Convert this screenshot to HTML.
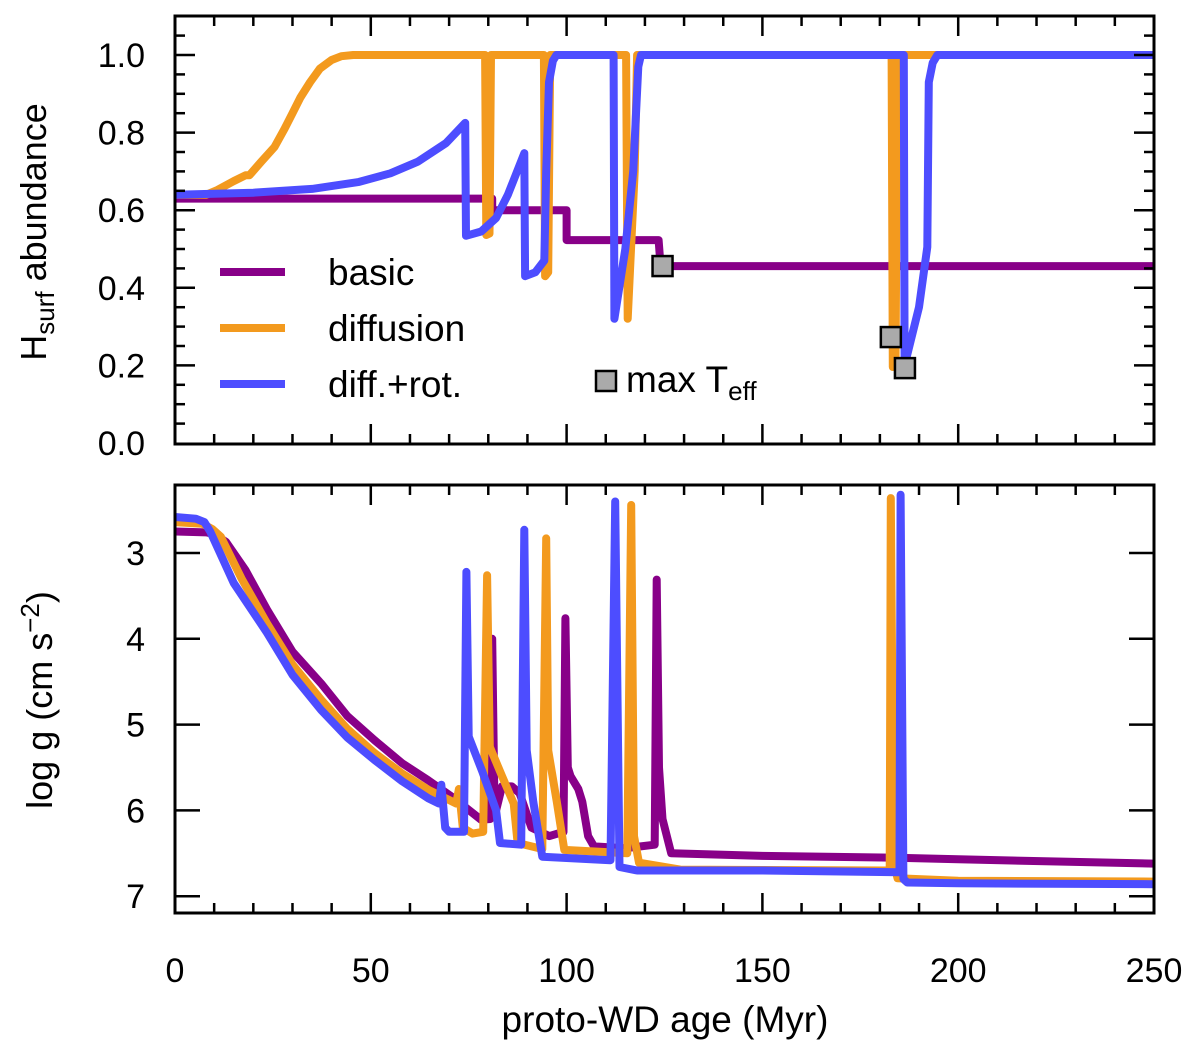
<!DOCTYPE html>
<html><head><meta charset="utf-8">
<style>
html,body{margin:0;padding:0;background:#fff;}
svg{display:block;font-family:"Liberation Sans",sans-serif;}
</style></head>
<body>
<svg id="chart" width="1200" height="1055" viewBox="0 0 1200 1055" xmlns="http://www.w3.org/2000/svg">
<g id="topSeries"></g>
<g id="botSeries"></g>
<g id="axes"></g>
<g id="legend">
  <line x1="220" y1="272" x2="285" y2="272" stroke="#880088" stroke-width="8"/>
  <text x="328" y="285" font-size="37">basic</text>
  <line x1="220" y1="328" x2="285" y2="328" stroke="#F39A1E" stroke-width="8"/>
  <text x="328" y="341" font-size="37">diffusion</text>
  <line x1="220" y1="384" x2="285" y2="384" stroke="#4D4DFF" stroke-width="8"/>
  <text x="328" y="397" font-size="37">diff.+rot.</text>
  <rect x="596" y="371" width="20" height="20" fill="#aaa" stroke="#000" stroke-width="2.5"/>
  <text x="626" y="392" font-size="37">max T<tspan font-size="26" dy="8">eff</tspan></text>
</g>
<text x="665" y="1032" font-size="37" text-anchor="middle">proto-WD age (Myr)</text>
<text transform="translate(46,232) rotate(-90)" font-size="36" text-anchor="middle">H<tspan font-size="26" dy="8">surf</tspan><tspan dy="-8"> abundance</tspan></text>
<text transform="translate(52,700) rotate(-90)" font-size="36" text-anchor="middle">log g (cm s<tspan font-size="26" dy="-13">−2</tspan><tspan dy="13">)</tspan></text>
</svg>
<script>
// ---- data ----
const xTicks = [0, 50, 100, 150, 200, 250];
const topTicks = [0.0, 0.2, 0.4, 0.6, 0.8, 1.0];
const topTickLabels = ["0.0", "0.2", "0.4", "0.6", "0.8", "1.0"];
const botTicks = [3, 4, 5, 6, 7];
const botTickLabels = ["3", "4", "5", "6", "7"];

// top panel: H surface abundance
const basicTopAge = [0, 81, 81, 100, 100, 123.5, 124, 250];
const basicTopH = [0.63, 0.63, 0.60, 0.60, 0.523, 0.523, 0.456, 0.456];
const diffTopAge = [0, 8, 10.8, 15, 18, 19, 22, 25.4, 28, 30, 32, 34.5, 37, 40, 42.5, 45.5, 79.2, 79.5, 80.3, 80.7, 94.2, 94.5, 95.3, 95.8, 115.2, 115.6, 117.4, 118, 183, 183.3, 184, 184.5, 250];
const diffTopH = [0.64, 0.64, 0.652, 0.675, 0.69, 0.69, 0.725, 0.763, 0.81, 0.85, 0.89, 0.93, 0.965, 0.987, 0.997, 1.0, 1.0, 0.536, 0.54, 1.0, 1.0, 0.43, 0.44, 1.0, 1.0, 0.32, 0.7, 1.0, 1.0, 0.196, 0.2, 1.0, 1.0];
const rotTopAge = [0, 20, 35, 47, 55, 62, 69.2, 74.1, 74.3, 78.2, 82, 85, 89.2, 89.4, 92, 94.3, 94.8, 95.5, 96.5, 97.4, 112, 112.2, 115, 117, 118.3, 119, 186.1, 186.3, 190, 192.1, 192.5, 193.5, 194.7, 250];
const rotTopH = [0.64, 0.645, 0.655, 0.673, 0.695, 0.725, 0.773, 0.825, 0.534, 0.545, 0.58, 0.64, 0.747, 0.43, 0.44, 0.47, 0.7, 0.93, 0.985, 1.0, 1.0, 0.32, 0.5, 0.7, 0.97, 1.0, 1.0, 0.2, 0.35, 0.505, 0.93, 0.98, 1.0, 1.0];
// max Teff markers
const markerAge = [124.5, 182.8, 186.4];
const markerH = [0.456, 0.273, 0.193];

// bottom panel: log g
const basicBotAge = [0, 8, 10, 13, 18, 23.5, 30, 37.3, 44, 50.9, 58, 64.7, 71, 78.2, 80.5, 81, 81.5, 82, 83.5, 86, 88, 91, 95.6, 99.2, 99.7, 100.3, 101, 103, 104, 105.5, 107, 115, 122.5, 123, 123.6, 124.5, 126.7, 150, 183, 200, 250];
const basicBotG = [2.75, 2.76, 2.78, 2.87, 3.2, 3.66, 4.15, 4.52, 4.9, 5.18, 5.45, 5.65, 5.85, 6.11, 6.1, 4.0, 5.7, 6.0, 5.72, 5.72, 5.8, 6.2, 6.3, 6.25, 3.76, 5.5, 5.6, 5.75, 5.9, 6.3, 6.42, 6.44, 6.4, 3.31, 5.5, 6.1, 6.5, 6.53, 6.55, 6.57, 6.62];
const diffBotAge = [0, 7, 9.5, 11.7, 17, 23.5, 30, 37.3, 44, 50.9, 58, 64.7, 71.8, 72.5, 73.5, 76, 78.7, 79.7, 80.4, 83.5, 86.5, 87.5, 93.8, 94.8, 95.3, 97.5, 99.4, 115.5, 116.5, 117.2, 118.5, 129, 182.5, 182.8, 183.5, 184.5, 200, 250];
const diffBotG = [2.64, 2.66, 2.72, 2.81, 3.3, 3.82, 4.3, 4.71, 5.05, 5.33, 5.57, 5.76, 5.92, 5.75, 6.2, 6.27, 6.25, 3.26, 5.26, 5.6, 5.92, 6.38, 6.45, 2.83, 5.3, 5.9, 6.46, 6.5, 2.44, 6.3, 6.61, 6.69, 6.7, 2.36, 6.6, 6.79, 6.82, 6.83];
const rotBotAge = [0, 5.3, 7.5, 9, 15, 23.5, 30, 37.3, 44, 50.9, 58, 64.7, 67.4, 68, 69, 70, 73.8, 74.4, 75, 78.5, 82, 83, 88.4, 89.2, 89.8, 91.5, 93.8, 111.2, 112.4, 113.5, 118, 150, 185, 185.3, 186, 187, 200, 250];
const rotBotG = [2.58, 2.6, 2.64, 2.75, 3.35, 3.93, 4.42, 4.83, 5.15, 5.41, 5.66, 5.86, 5.92, 5.7, 6.2, 6.25, 6.25, 3.22, 5.14, 5.55, 6.0, 6.38, 6.4, 2.73, 5.3, 5.9, 6.54, 6.58, 2.4, 6.66, 6.7, 6.7, 6.72, 2.32, 6.8, 6.84, 6.85, 6.86];

// ---- geometry ----
const L = 175, R = 1154;
const TT = 16, TB = 444, BT = 485, BB = 913;
const xS = a => L + (a / 250) * (R - L);
const yTop = v => 443 - 388 * v;
const yBot = g => 553 + 85.8 * (g - 3);
const NS = "http://www.w3.org/2000/svg";
const COLORS = {basic: "#880088", diff: "#F39A1E", rot: "#4D4DFF"};

function mk(tag, attrs, parent) {
  const e = document.createElementNS(NS, tag);
  for (const k in attrs) e.setAttribute(k, attrs[k]);
  parent.appendChild(e);
  return e;
}
function series(ages, vals, yf, color, parent, name, clipId) {
  const pts = ages.map((a, i) => xS(a).toFixed(1) + "," + yf(vals[i]).toFixed(1)).join(" ");
  const p = mk("polyline", {points: pts, fill: "none", stroke: color, "stroke-width": 8, "stroke-linejoin": "round", "stroke-linecap": "round", "clip-path": "url(#" + clipId + ")"}, parent);
  
  
}
const svg = document.getElementById("chart");
const defs = mk("defs", {}, svg);
const c1 = mk("clipPath", {id: "clipTop"}, defs);
mk("rect", {x: L, y: TT, width: R - L, height: TB - TT}, c1);
const c2 = mk("clipPath", {id: "clipBot"}, defs);
mk("rect", {x: L, y: BT, width: R - L, height: BB - BT}, c2);

const tg = document.getElementById("topSeries");
series(basicTopAge, basicTopH, yTop, COLORS.basic, tg, "top-line-basic", "clipTop");
series(diffTopAge, diffTopH, yTop, COLORS.diff, tg, "top-line-diffusion", "clipTop");
series(rotTopAge, rotTopH, yTop, COLORS.rot, tg, "top-line-diff-rot", "clipTop");
markerAge.forEach((a, i) => {
  const r = mk("rect", {x: xS(a) - 10, y: yTop(markerH[i]) - 10, width: 20, height: 20, fill: "#aaa", stroke: "#000", "stroke-width": 2.5}, tg);
  
  
});
const bg = document.getElementById("botSeries");
series(basicBotAge, basicBotG, yBot, COLORS.basic, bg, "bottom-line-basic", "clipBot");
series(diffBotAge, diffBotG, yBot, COLORS.diff, bg, "bottom-line-diffusion", "clipBot");
series(rotBotAge, rotBotG, yBot, COLORS.rot, bg, "bottom-line-diff-rot", "clipBot");

// ---- axes ----
const ax = document.getElementById("axes");
function line(x1, y1, x2, y2, w, name) {
  const l = mk("line", {x1, y1, x2, y2, stroke: "#000", "stroke-width": w}, ax);
  
  
}
[[TT, TB], [BT, BB]].forEach(([t, b], pi) => {
  const fr = mk("rect", {x: L, y: t, width: R - L, height: b - t, fill: "none", stroke: "#000", "stroke-width": 3}, ax);
  
  
  for (let a = 0; a <= 250; a += 10) {
    const len = a % 50 === 0 ? 20 : 10;
    line(xS(a), b, xS(a), b - len, 2.5, "x-tick");
    line(xS(a), t, xS(a), t + len, 2.5, "x-tick");
  }
});
for (let v = 0.05; v <= 1.09; v += 0.05) {
  const major = Math.abs(v / 0.2 - Math.round(v / 0.2)) < 0.01;
  const len = major ? 20 : 10;
  line(L, yTop(v), L + len, yTop(v), 2.5, "top-y-tick");
  line(R, yTop(v), R - len, yTop(v), 2.5, "top-y-tick");
}
botTicks.forEach(g => {
  line(L, yBot(g), L + 25, yBot(g), 2.5, "bottom-y-tick");
  line(R, yBot(g), R - 25, yBot(g), 2.5, "bottom-y-tick");
});
function label(x, y, s, anchor, name) {
  const t = mk("text", {x, y, "font-size": 34, "text-anchor": anchor}, ax);
  t.textContent = s;
  
  
}
xTicks.forEach(a => label(xS(a), 982, String(a), "middle", "x-tick-label"));
topTicks.forEach((v, i) => label(145, yTop(v) + 12, topTickLabels[i], "end", "top-y-tick-label"));
botTicks.forEach((g, i) => label(145, yBot(g) + 12, botTickLabels[i], "end", "bottom-y-tick-label"));
</script>
</body></html>
